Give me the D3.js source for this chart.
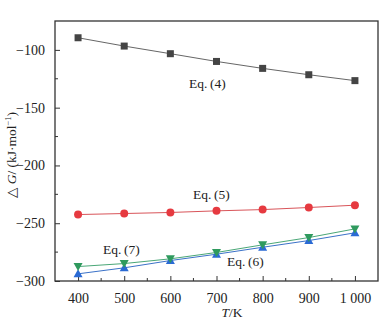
<!DOCTYPE html>
<html><head><meta charset="utf-8">
<script src="https://cdn.jsdelivr.net/npm/d3@7"></script>
<style>body{margin:0;background:#fff}svg{display:block}text{font-family:"Liberation Serif","DejaVu Serif",serif}</style>
</head><body><svg id="c" width="392" height="329"></svg>
<script>
const temps = [400, 500, 600, 700, 800, 900, 1000];
const eq4 = [-89.5, -96.7, -103.3, -110, -116, -121.5, -126.6];
const eq5 = [-242.5, -241.6, -240.7, -239.3, -238.2, -236.4, -234.4];
const eq6 = [-293.8, -288.6, -282.3, -276.8, -270.8, -265, -258.3];
const eq7 = [-287.5, -284.9, -280.8, -275.3, -268.7, -262.4, -254.9];
const xTicks = [400, 500, 600, 700, 800, 900, 1000];
const xTickLabels = ["400", "500", "600", "700", "800", "900", "1 000"];
const yTicks = [-100, -150, -200, -250, -300];
const yTickLabels = ["−100", "−150", "−200", "−250", "−300"];

const svg = d3.select("#c");
const L = 55, R = 378, T = 21, B = 281;
const x = d3.scaleLinear().domain([350, 1050]).range([L, R]);
const y = d3.scaleLinear().domain([-300, -75]).range([B, T]);
const axisCol = "#333";
const fs = 14;

// minor ticks
const xMinor = d3.range(450, 1050, 100);
const yMinor = [-125, -175, -225, -275];
svg.append("g").selectAll("line").data(xMinor).join("line")
  .attr("x1", d => x(d)).attr("x2", d => x(d)).attr("y1", B).attr("y2", B - 3)
  .attr("stroke", axisCol).attr("stroke-width", 1);
svg.append("g").selectAll("line").data(yMinor).join("line")
  .attr("y1", d => y(d)).attr("y2", d => y(d)).attr("x1", L).attr("x2", L + 3)
  .attr("stroke", axisCol).attr("stroke-width", 1);

const xAxis = d3.axisBottom(x).tickValues(xTicks).tickSizeInner(-5).tickSizeOuter(0)
  .tickPadding(12).tickFormat((d, i) => xTickLabels[i]);
const gx = svg.append("g").attr("transform", `translate(0,${B})`).call(xAxis);
gx.select(".domain").remove();
gx.selectAll("line").attr("stroke", axisCol);
gx.selectAll("text").attr("font-size", fs).attr("fill", "#222").attr("font-family", "Liberation Serif");

const yAxis = d3.axisLeft(y).tickValues(yTicks).tickSizeInner(-5).tickSizeOuter(0)
  .tickPadding(10).tickFormat((d, i) => yTickLabels[i]);
const gy = svg.append("g").attr("transform", `translate(${L},0)`).call(yAxis);
gy.select(".domain").remove();
gy.selectAll("line").attr("stroke", axisCol);
gy.selectAll("text").attr("font-size", fs).attr("fill", "#222").attr("font-family", "Liberation Serif");

svg.append("rect").attr("x", L).attr("y", T).attr("width", R - L).attr("height", B - T)
  .attr("fill", "none").attr("stroke", axisCol).attr("stroke-width", 1.3);

const line = d3.line().x((d, i) => x(temps[i])).y(d => y(d));
const series = [
  {v: eq4, line: "#666", fill: "#444", shape: "square"},
  {v: eq5, line: "#d9555a", fill: "#e63a40", shape: "circle"},
  {v: eq6, line: "#3b72c8", fill: "#2a6ad4", shape: "up"},
  {v: eq7, line: "#4aa777", fill: "#2f9a5e", shape: "down"}
];
series.forEach(s => {
  svg.append("path").datum(s.v).attr("d", line).attr("fill", "none")
    .attr("stroke", s.line).attr("stroke-width", 1);
  const g = svg.append("g");
  s.v.forEach((d, i) => {
    const cx = x(temps[i]), cy = y(d);
    if (s.shape === "square") {
      g.append("rect").attr("x", cx - 3.5).attr("y", cy - 3.5).attr("width", 7).attr("height", 7).attr("fill", s.fill);
    } else if (s.shape === "circle") {
      g.append("circle").attr("cx", cx).attr("cy", cy).attr("r", 4).attr("fill", s.fill);
    } else if (s.shape === "up") {
      g.append("path").attr("d", `M${cx},${cy - 4.5}L${cx + 4.5},${cy + 3.5}L${cx - 4.5},${cy + 3.5}Z`).attr("fill", s.fill);
    } else {
      g.append("path").attr("d", `M${cx},${cy + 4.5}L${cx + 4.5},${cy - 3.5}L${cx - 4.5},${cy - 3.5}Z`).attr("fill", s.fill);
    }
  });
});

const labels = [
  {t: "Eq.\u2009(4)", x: 189, y: 88},
  {t: "Eq.\u2009(5)", x: 193, y: 199},
  {t: "Eq.\u2009(7)", x: 103, y: 254},
  {t: "Eq.\u2009(6)", x: 227, y: 266}
];
svg.append("g").selectAll("text").data(labels).join("text")
  .attr("x", d => d.x).attr("y", d => d.y).attr("font-size", 13.5).attr("fill", "#222").text(d => d.t);

// axis titles
const xt = svg.append("text").attr("x", 232).attr("y", 317).attr("text-anchor", "middle")
  .attr("font-size", 13.5).attr("fill", "#222");
xt.append("tspan").attr("font-style", "italic").text("T");
xt.append("tspan").text("/K");

const yt = svg.append("text").attr("transform", "translate(16,155) rotate(-90)")
  .attr("text-anchor", "middle").attr("font-size", 13.5).attr("fill", "#222");
yt.append("tspan").text("△ ");
yt.append("tspan").attr("font-style", "italic").text("G");
yt.append("tspan").text("/ (kJ·mol");
yt.append("tspan").attr("font-size", 8.5).attr("dy", -5).text("−1");
yt.append("tspan").attr("dy", 5).text(")");
</script></body></html>
